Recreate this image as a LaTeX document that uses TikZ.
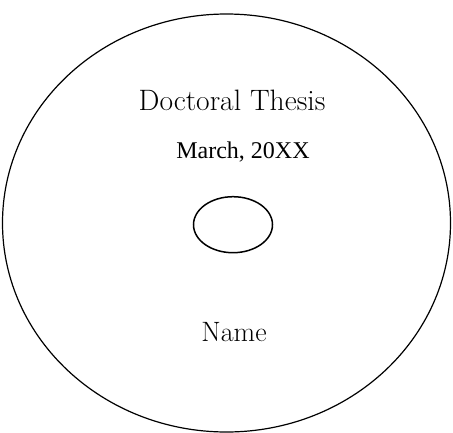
\documentclass[tikz,border=0pt]{standalone}
\usepackage{fontspec}
\newfontfamily\timesfont{Liberation Serif}
\usetikzlibrary{shapes.geometric}

\begin{document}
\begin{tikzpicture}[x=1pt, y=-1pt,
    discline/.style={draw=black, line width=1.2pt},
    titletext/.style={anchor=base, inner sep=0pt, font=\fontsize{29.5}{34}\selectfont},
    nametext/.style={anchor=base, inner sep=0pt, font=\fontsize{28}{32}\selectfont},
    datetext/.style={anchor=base, inner sep=0pt, font=\timesfont\fontsize{24}{28}\selectfont}]

    \useasboundingbox (0,0) rectangle (453,432);

    % Disc outline and centre hole
    \draw[discline] (226.5,223) ellipse [x radius=224, y radius=209];
    \draw[discline, line width=1.5pt] (233,224.7) ellipse [x radius=39.5, y radius=28];

    % Label texts
    \node[titletext] (title) at (232,110) {Doctoral Thesis};
    \node[datetext] (date) at (243,158.3) {March, 20XX};
    \node[nametext] (name) at (234,341.7) {Name};

\end{tikzpicture}
\end{document}
